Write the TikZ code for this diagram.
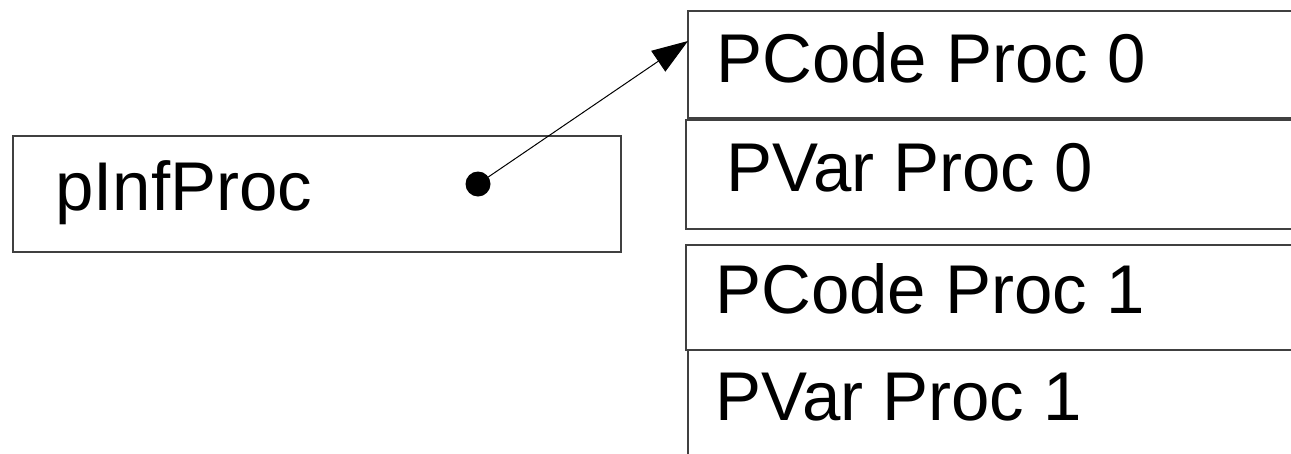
\documentclass[tikz,border=0pt]{standalone}
\usepackage{fontspec}
\setmainfont{Liberation Sans}
\usetikzlibrary{arrows.meta}
\begin{document}
\begin{tikzpicture}[x=1pt,y=-1pt,
  box/.style={draw=black!75,line width=1.2pt,inner sep=0pt},
  lbl/.style={anchor=base west,inner sep=0pt,font=\fontsize{69}{80}\selectfont},
  ptr/.style={line width=1pt,-{Triangle[length=36pt,width=25pt]}}]
\useasboundingbox (0,0) rectangle (1291,453);
\clip (0,0) rectangle (1291,453);
\draw[box] (13,136) rectangle (621,252);
\draw[box] (688,11) rectangle (1310,118);
\draw[box] (686,120) rectangle (1310,229);
\draw[box] (686,245) rectangle (1310,350);
\draw[box] (688,350) rectangle (1310,470);
\node[lbl] (tinf) at (55,210) {pInfProc};
\node[lbl] (tpc0) at (716,82) {PCode Proc 0};
\node[lbl] (tpv0) at (726,191) {PVar Proc 0};
\node[lbl] (tpc1) at (715,313) {PCode Proc 1};
\node[lbl] (tpv1) at (715,420) {PVar Proc 1};
\node[fill=black,circle,minimum size=25pt,inner sep=0pt] (dot) at (478,184) {};
\coordinate (tip) at (688,41);
\draw[ptr] (dot.center) -- (tip);
\end{tikzpicture}
\end{document}
